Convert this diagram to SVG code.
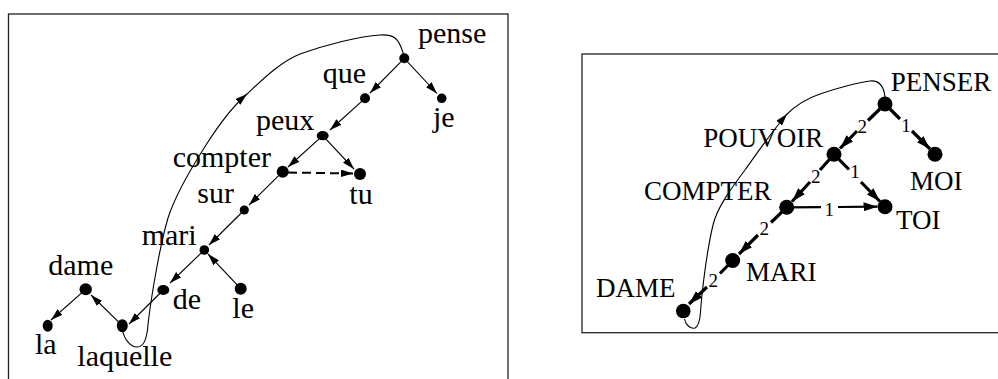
<svg xmlns="http://www.w3.org/2000/svg" width="998" height="379" viewBox="0 0 998 379">
<style>
.frame{fill:none;stroke:#222;stroke-width:1.3}
.t{font-family:"Liberation Serif","Times New Roman",serif;font-size:30px;fill:#000}
.T{font-family:"Liberation Serif","Times New Roman",serif;font-size:27px;fill:#000}
.n{font-family:"Liberation Serif","Times New Roman",serif;font-size:19px;fill:#000;text-anchor:middle}
.e{fill:none;stroke:#000;stroke-width:1.1}
.E{fill:none;stroke:#000;stroke-width:3.2}
.Em{fill:none;stroke:#000;stroke-width:2.2}
.d{fill:#000}
.c{fill:none;stroke:#000;stroke-width:1.1}
</style>
<defs>
<marker id="as" markerUnits="userSpaceOnUse" markerWidth="13" markerHeight="8" refX="12" refY="3.75" orient="auto">
<path d="M0,0 L12,3.75 L0,7.5 z" fill="#000"/>
</marker>
<marker id="al" markerUnits="userSpaceOnUse" markerWidth="15" markerHeight="10" refX="14" refY="4.5" orient="auto">
<path d="M0,0 L14,4.5 L0,9 z" fill="#000"/>
</marker>
</defs>
<rect width="998" height="379" fill="#fff"/>
<rect class="frame" x="8.5" y="14" width="499.5" height="380"/>
<rect class="frame" x="582" y="54" width="430" height="278.7"/>

<g id="connectors">
<!-- left panel -->
<line class="e" x1="404.3" y1="58.3" x2="370" y2="93" marker-end="url(#as)"/>
<line class="e" x1="404.3" y1="58.3" x2="437" y2="93.5" marker-end="url(#as)"/>
<line class="e" x1="365" y1="98.3" x2="330" y2="130" marker-end="url(#as)"/>
<line class="e" x1="322.7" y1="135.7" x2="288" y2="167" marker-end="url(#as)"/>
<line class="e" x1="322.7" y1="135.7" x2="354" y2="169" marker-end="url(#as)"/>
<line x1="288" y1="172.5" x2="353" y2="173.5" fill="none" stroke="#000" stroke-width="2" stroke-dasharray="9,5" marker-end="url(#as)"/>
<line class="e" x1="282.7" y1="171.7" x2="249" y2="205" marker-end="url(#as)"/>
<line class="e" x1="244.3" y1="210" x2="209" y2="245" marker-end="url(#as)"/>
<line class="e" x1="240.7" y1="288.7" x2="208" y2="254" marker-end="url(#as)"/>
<line class="e" x1="204.3" y1="250" x2="170" y2="283" marker-end="url(#as)"/>
<line class="e" x1="163.3" y1="290" x2="129" y2="324" marker-end="url(#as)"/>
<line class="e" x1="122.3" y1="325.7" x2="91" y2="295" marker-end="url(#as)"/>
<line class="e" x1="85.7" y1="289.3" x2="51" y2="320" marker-end="url(#as)"/>
<path class="c" d="M122.3,329 C124,340 131,347 137,347 C144,347 146,339 147.5,330 C149,312 158,252 168,218 C175,196 190,170 206,145 C220,123 233,106 247,94" marker-end="url(#as)"/>
<path class="c" d="M246,95 C262,80 280,62 300,54 C325,45 360,36 380,35 C395,34 398,40 401,47 C403,52 404,56 404.3,58"/>

<!-- right panel -->
<line class="E" x1="885" y1="104" x2="868" y2="120.5"/>
<line class="E" x1="857" y1="131" x2="840" y2="148.5" marker-end="url(#al)"/>
<line class="E" x1="885" y1="104" x2="900" y2="119"/>
<line class="E" x1="912" y1="131" x2="930" y2="149" marker-end="url(#al)"/>
<line class="E" x1="834" y1="154.3" x2="820" y2="170"/>
<line class="E" x1="810" y1="182" x2="792" y2="201.5" marker-end="url(#al)"/>
<line class="E" x1="834" y1="154.3" x2="849" y2="169.5"/>
<line class="E" x1="861" y1="182" x2="880" y2="201.5" marker-end="url(#al)"/>
<line class="Em" x1="786.7" y1="207.3" x2="821" y2="207.2"/>
<line class="Em" x1="838" y1="207" x2="877.5" y2="206.7" marker-end="url(#al)"/>
<line class="E" x1="786.7" y1="207.3" x2="771" y2="222.5"/>
<line class="E" x1="758" y1="235" x2="739" y2="254" marker-end="url(#al)"/>
<line class="E" x1="732.7" y1="260.5" x2="720" y2="273.5"/>
<line class="E" x1="707" y1="287" x2="689" y2="304" marker-end="url(#al)"/>
<path class="c" d="M684.5,319 C686,326 691,329 695,328 C699,326 700,320 700.5,312 C702,290 707,250 713,225 C717,208 730,190 745,170 C755,156 770,134 787,114" marker-end="url(#as)"/>
<path class="c" d="M786,115 C795,106 805,99 820,94 C835,89 855,83 870,81 C880,80 884,88 885,97"/>
<text class="n" x="862.3" y="132.5">2</text>
<text class="n" x="906" y="131.5">1</text>
<text class="n" x="815.7" y="183">2</text>
<text class="n" x="855" y="178">1</text>
<text class="n" x="829.3" y="215.5">1</text>
<text class="n" x="764.3" y="235">2</text>
<text class="n" x="713.3" y="286.5">2</text>
</g>

<g id="n-pense"><ellipse class="d" cx="404.3" cy="58.3" rx="5" ry="5"/><text class="t" x="418" y="43.3">pense</text></g>
<g id="n-je"><ellipse class="d" cx="441.7" cy="98.3" rx="4.8" ry="4.8"/><text class="t" x="433" y="126.7">je</text></g>
<g id="n-que"><ellipse class="d" cx="365" cy="98.3" rx="5" ry="5"/><text class="t" x="322.7" y="83.3">que</text></g>
<g id="n-peux"><ellipse class="d" cx="322.7" cy="135.7" rx="6" ry="4.6"/><text class="t" x="256" y="130">peux</text></g>
<g id="n-compter"><ellipse class="d" cx="282.7" cy="171.7" rx="6" ry="6"/><text class="t" x="172.7" y="166.7">compter</text></g>
<g id="n-tu"><ellipse class="d" cx="360" cy="174" rx="6" ry="6"/><text class="t" x="349.3" y="204">tu</text></g>
<g id="n-sur"><ellipse class="d" cx="244.3" cy="210" rx="4.6" ry="4.6"/><text class="t" x="197.3" y="202.7">sur</text></g>
<g id="n-mari"><ellipse class="d" cx="204.3" cy="250" rx="4.8" ry="4.8"/><text class="t" x="141.7" y="245">mari</text></g>
<g id="n-de"><ellipse class="d" cx="163.3" cy="290" rx="6" ry="5"/><text class="t" x="172.7" y="309.3">de</text></g>
<g id="n-le"><ellipse class="d" cx="240.7" cy="288.7" rx="6" ry="6"/><text class="t" x="232.3" y="318.3">le</text></g>
<g id="n-dame"><ellipse class="d" cx="85.7" cy="289.3" rx="6.2" ry="6"/><text class="t" x="48.3" y="275">dame</text></g>
<g id="n-la"><ellipse class="d" cx="47.7" cy="325.7" rx="5" ry="6"/><text class="t" x="35" y="354">la</text></g>
<g id="n-laquelle"><ellipse class="d" cx="122.3" cy="325.7" rx="5.5" ry="6.5"/><text class="t" x="77.3" y="366">laquelle</text></g>

<g id="N-PENSER"><circle class="d" cx="885" cy="104" r="7.5"/><text class="T" x="890.7" y="90.7">PENSER</text></g>
<g id="N-MOI"><circle class="d" cx="935" cy="154.3" r="7.5"/><text class="T" x="910" y="190">MOI</text></g>
<g id="N-POUVOIR"><circle class="d" cx="834" cy="154.3" r="7.5"/><text class="T" x="703.3" y="146.7">POUVOIR</text></g>
<g id="N-TOI"><circle class="d" cx="885" cy="206.7" r="7.5"/><text class="T" x="896" y="229.3">TOI</text></g>
<g id="N-COMPTER"><circle class="d" cx="786.7" cy="207.3" r="7.5"/><text class="T" x="644" y="200">COMPTER</text></g>
<g id="N-MARI"><circle class="d" cx="732.7" cy="260.5" r="7.5"/><text class="T" x="746" y="280.7">MARI</text></g>
<g id="N-DAME"><circle class="d" cx="683.3" cy="311" r="7.3"/><text class="T" x="596" y="297.3">DAME</text></g>
</svg>
